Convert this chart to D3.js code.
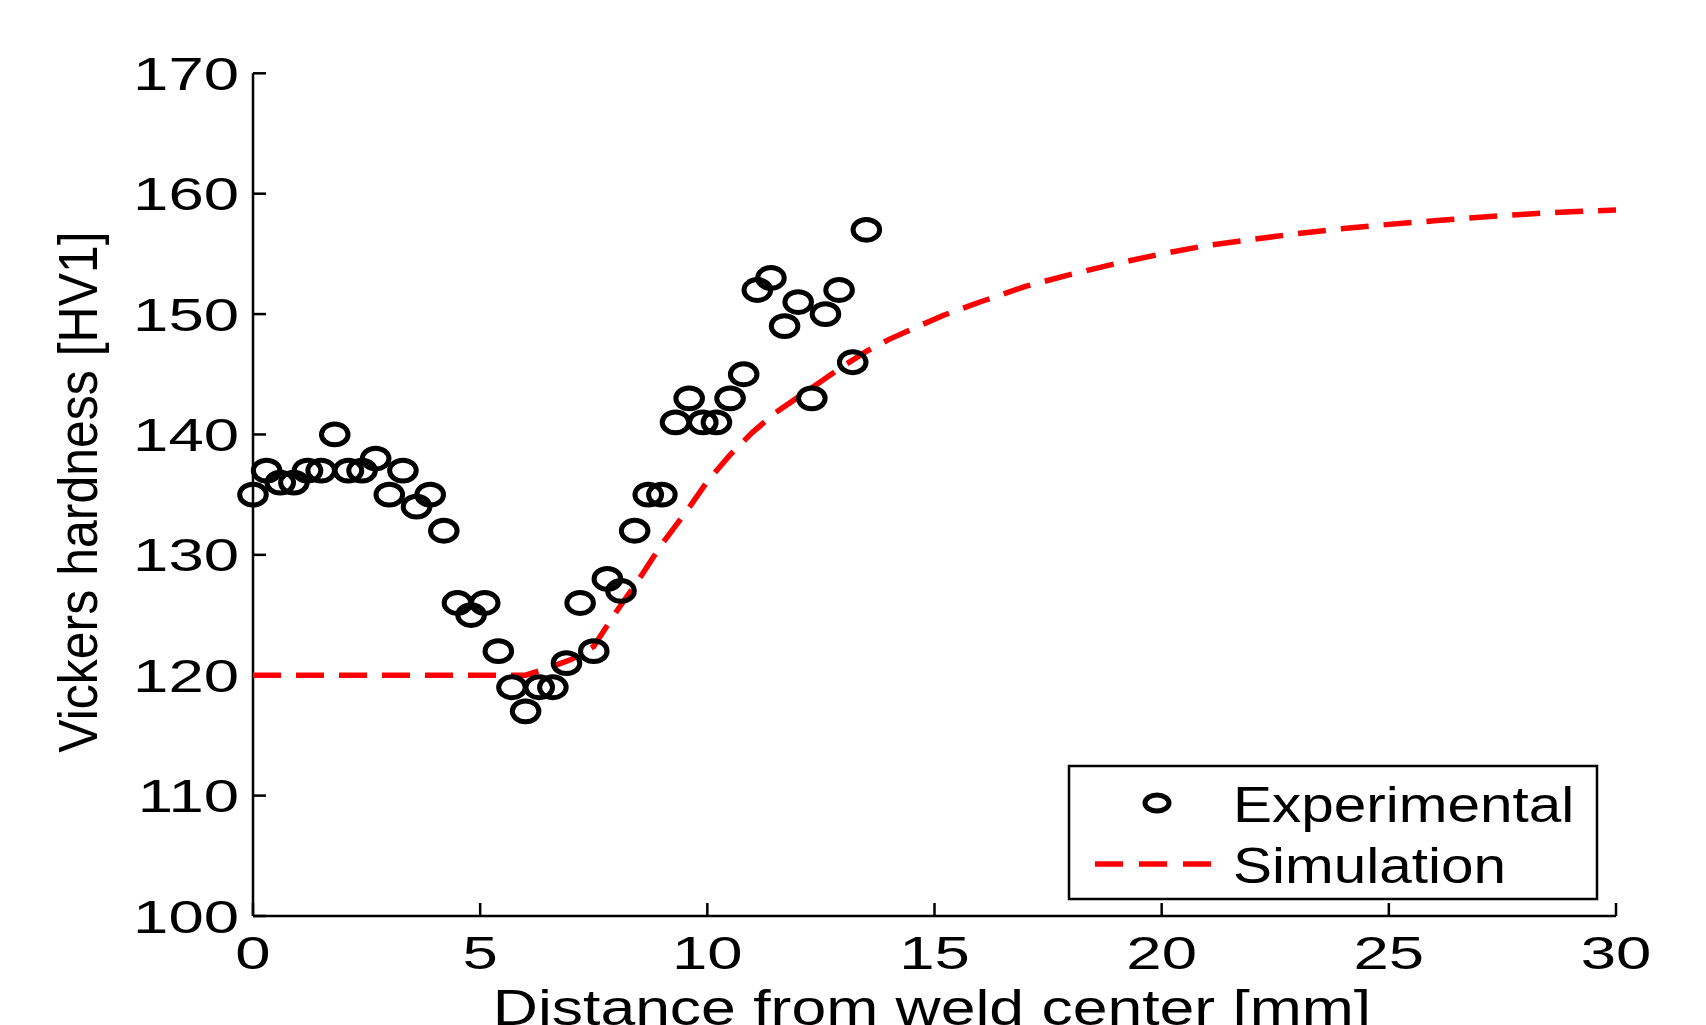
<!DOCTYPE html>
<html>
<head>
<meta charset="utf-8">
<script src="https://cdn.jsdelivr.net/npm/d3@7"></script>
<style>
  html, body { margin: 0; padding: 0; background: #fff; overflow: hidden; }
  svg { display: block; }
  text { font-family: "Liberation Sans", Arial, Helvetica, sans-serif; fill: #000; }
</style>
</head>
<body>
<svg id="chart" width="1706" height="1025"></svg>
<script>
// ---- data ----
const expX = [0, 0.3, 0.6, 0.9, 1.2, 1.5, 1.8, 2.1, 2.4, 2.7, 3.0, 3.3, 3.6, 3.9, 4.2, 4.5,
              4.8, 5.1, 5.4, 5.7, 6.0, 6.3, 6.6, 6.9, 7.2, 7.5, 7.8, 8.1, 8.4, 8.7, 9.0, 9.3,
              9.6, 9.9, 10.2, 10.5, 10.8, 11.1, 11.4, 11.7, 12.0, 12.3, 12.6, 12.9, 13.2, 13.5];
const expHV = [135, 137, 136, 136, 137, 137, 140, 137, 137, 138, 135, 137, 134, 135, 132, 126,
               125, 126, 122, 119, 117, 119, 119, 121, 126, 122, 128, 127, 132, 135, 135, 141,
               143, 141, 141, 143, 145, 152, 153, 149, 151, 143, 150, 152, 146, 157];

const simX = [0, 6.0, 6.5, 7.0, 7.5, 8.0, 8.5, 9.0, 9.5, 10.0, 10.5, 11.0, 11.5, 12.0, 12.5,
              13.0, 13.5, 14.0, 14.5, 15.2, 16.0, 17.0, 18.0, 19.0, 20.0, 21.0, 22.0, 23.0,
              24.0, 25.0, 26.0, 27.0, 28.0, 29.0, 30.0];
const simHV = [120, 120, 120.6, 121.3, 122.4, 125.3, 128.0, 130.9, 133.4, 136.1, 138.3, 140.2,
               141.8, 143.1, 144.4, 145.7, 146.9, 147.9, 148.75, 149.9, 151.0, 152.3, 153.3,
               154.2, 155.0, 155.7, 156.2, 156.7, 157.1, 157.45, 157.75, 158.05, 158.3, 158.5,
               158.65];

const xTicks = [0, 5, 10, 15, 20, 25, 30];
const yTicks = [100, 110, 120, 130, 140, 150, 160, 170];
const xLabel = "Distance from weld center [mm]";
const yLabel = "Vickers hardness [HV1]";
const legendLabels = ["Experimental", "Simulation"];

// ---- layout ----
const svg = d3.select("#chart");
const x = d3.scaleLinear().domain([0, 30]).range([253, 1616]);
const y = d3.scaleLinear().domain([100, 170]).range([916, 73.3]);

const tickSX = 1.38;   // horizontal glyph stretch in the reference

// axes lines
const axisG = svg.append("g").attr("stroke", "#000").attr("stroke-width", 2.5).attr("fill", "none");
axisG.append("line").attr("x1", x(0)).attr("x2", x(0)).attr("y1", y(170)).attr("y2", y(100));
axisG.append("line").attr("x1", x(0)).attr("x2", x(30)).attr("y1", y(100)).attr("y2", y(100));

// ticks (inward)
axisG.selectAll(".yt").data(yTicks).enter().append("line")
  .attr("x1", x(0)).attr("x2", x(0) + 13).attr("y1", d => y(d)).attr("y2", d => y(d));
axisG.selectAll(".xt").data(xTicks).enter().append("line")
  .attr("x1", d => x(d)).attr("x2", d => x(d)).attr("y1", y(100)).attr("y2", y(100) - 13);

// tick labels
svg.selectAll(".ylab").data(yTicks).enter().append("text")
  .attr("transform", d => `translate(239,${y(d) + 16.5}) scale(${tickSX},1)`)
  .attr("text-anchor", "end")
  .style("font-size", "46px")
  .text(d => d);

svg.selectAll(".xlab").data(xTicks).enter().append("text")
  .attr("transform", d => `translate(${x(d)},969) scale(${tickSX},1)`)
  .attr("text-anchor", "middle")
  .style("font-size", "46px")
  .text(d => d);

// axis titles
svg.append("text")
  .attr("transform", `translate(932,1025) scale(1.25,1)`)
  .attr("text-anchor", "middle")
  .style("font-size", "50px")
  .text(xLabel);

svg.append("text")
  .attr("transform", `translate(97,492) scale(1.12,1) rotate(-90)`)
  .attr("text-anchor", "middle")
  .style("font-size", "50px")
  .text(yLabel);

// simulation line
const line = d3.line().x(d => x(d[0])).y(d => y(d[1])).curve(d3.curveLinear);
svg.append("path")
  .datum(simX.map((v, i) => [v, simHV[i]]))
  .attr("d", line)
  .attr("fill", "none")
  .attr("stroke", "#ff0000")
  .attr("stroke-width", 5.5)
  .attr("stroke-dasharray", "28,15");

// experimental markers
svg.append("g").selectAll("ellipse")
  .data(expX.map((v, i) => [v, expHV[i]]))
  .enter().append("ellipse")
  .attr("cx", d => x(d[0]))
  .attr("cy", d => y(d[1]))
  .attr("rx", 13.3)
  .attr("ry", 10.4)
  .attr("fill", "none")
  .attr("stroke", "#000")
  .attr("stroke-width", 5);

// legend
const lg = svg.append("g");
lg.append("rect")
  .attr("x", 1069).attr("y", 766).attr("width", 528).attr("height", 133)
  .attr("fill", "#fff").attr("stroke", "#000").attr("stroke-width", 2.5);
lg.append("ellipse")
  .attr("cx", 1157).attr("cy", 803).attr("rx", 12).attr("ry", 8)
  .attr("fill", "none").attr("stroke", "#000").attr("stroke-width", 5);
lg.append("line")
  .attr("x1", 1095).attr("x2", 1213).attr("y1", 864).attr("y2", 864)
  .attr("stroke", "#ff0000").attr("stroke-width", 5.5).attr("stroke-dasharray", "28,16");
lg.selectAll(".lt").data(legendLabels).enter().append("text")
  .attr("transform", (d, i) => `translate(1233,${i === 0 ? 822 : 883}) scale(1.17,1)`)
  .style("font-size", "50px")
  .text(d => d);
</script>
</body>
</html>
